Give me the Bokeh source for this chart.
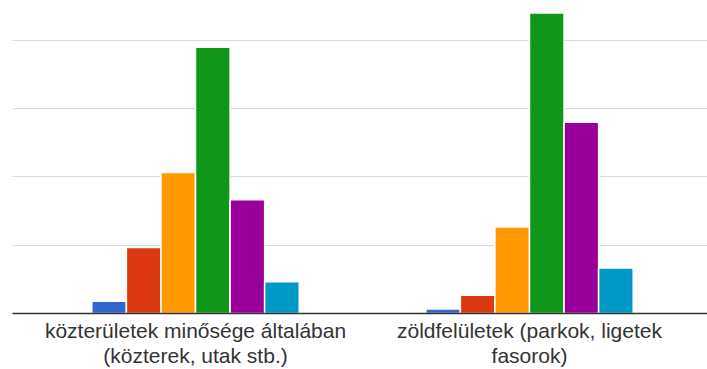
from bokeh.plotting import figure
from bokeh.models import FixedTicker, ColumnDataSource
from bokeh.embed import file_html
from bokeh.resources import INLINE

categories = ["közterületek minősége általában\n(közterek, utak stb.)",
              "zöldfelületek (parkok, ligetek\nfasorok)"]
series_colors = ["#3366cc", "#dc3912", "#ff9900", "#109618", "#990099", "#0099c6"]
values_public = [2.7, 14.5, 31, 58.5, 25, 7]
values_green = [1, 4, 19, 66, 42, 10]
grid_ticks = [15, 30, 45, 60]

p = figure(width=707, height=369, output_backend="svg", toolbar_location=None,
           x_range=(-0.548, 1.533), y_range=(0, 68.76),
           min_border_left=12, min_border_right=0, min_border_top=0, min_border_bottom=55)
p.outline_line_color = None
p.background_fill_color = "white"

step = 0.1035
offsets = [(i - 2.5) * step for i in range(6)]
for i, col in enumerate(series_colors):
    src = ColumnDataSource(dict(x=[0 + offsets[i], 1 + offsets[i]],
                                top=[values_public[i], values_green[i]]))
    p.vbar(x="x", top="top", bottom=0, width=step, source=src,
           fill_color=col, line_color="white", line_width=1.5)

p.yaxis.visible = False
p.ygrid.ticker = FixedTicker(ticks=grid_ticks)
p.ygrid.grid_line_color = "#d9d9d9"
p.ygrid.grid_line_width = 1
p.xgrid.grid_line_color = None

p.xaxis.ticker = FixedTicker(ticks=[0, 1])
p.xaxis.major_label_overrides = {0: categories[0], 1: categories[1]}
p.xaxis.major_tick_line_color = None
p.xaxis.minor_tick_line_color = None
p.xaxis.major_tick_in = 0
p.xaxis.major_tick_out = 0
p.xaxis.axis_line_color = "#333333"
p.xaxis.axis_line_width = 1.5
p.xaxis.major_label_text_font = "Liberation Sans"
p.xaxis.major_label_text_font_size = "21px"
p.xaxis.major_label_text_line_height = 1.1
p.xaxis.major_label_text_color = "#333333"
p.xaxis.major_label_standoff = 5

open("out.html", "w").write(file_html(p, INLINE))
